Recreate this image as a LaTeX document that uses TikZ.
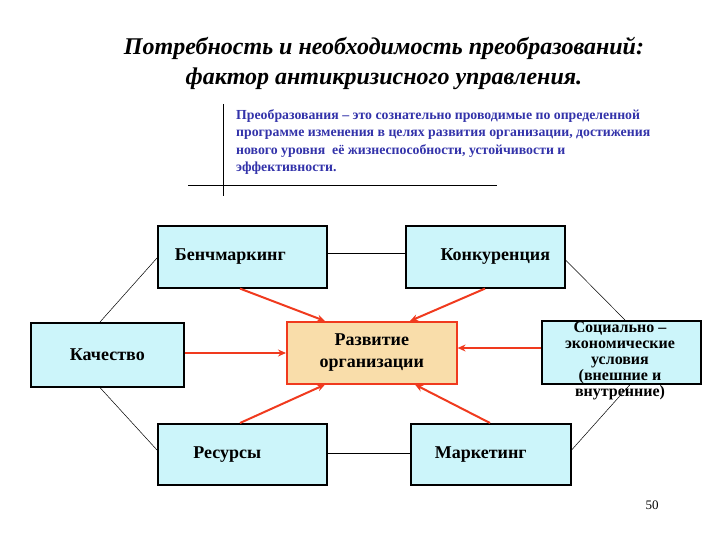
\documentclass[tikz,border=0pt]{standalone}
\usepackage{fontspec}
\setmainfont{Liberation Serif}
\usetikzlibrary{arrows.meta}
\definecolor{boxcyan}{HTML}{CCF5FA}
\definecolor{boxorange}{HTML}{F9DDAA}
\definecolor{defblue}{HTML}{3333AA}
\definecolor{arrred}{HTML}{F03A1E}
\tikzset{
 bx/.style={draw=black,line width=1.6pt,fill=boxcyan,font=\bfseries\fontsize{18}{22}\selectfont,align=center,inner sep=0pt},
 thin/.style={draw=black,line width=0.5pt},
 redarr/.style={draw=arrred,line width=2pt,-{Stealth[length=8pt,width=7pt]}}
}
\begin{document}
\begin{tikzpicture}[x=1pt,y=-1pt]
\useasboundingbox (0,0) rectangle (720,540);
\node[font=\bfseries\itshape\fontsize{24}{30}\selectfont,align=center] (title) at (384,63) {Потребность и необходимость преобразований:\\фактор антикризисного управления.};
\node[font=\bfseries\fontsize{13.8}{17.5}\selectfont,text=defblue,align=left,anchor=north west,inner sep=0pt] (def) at (236,109) {Преобразования -- это сознательно проводимые по определенной\\программе изменения в целях развития организации, достижения\\нового уровня \ её жизнеспособности, устойчивости и\\эффективности.};
\coordinate (v1) at (223,104); \coordinate (v2) at (223,196);
\coordinate (h1) at (188,185); \coordinate (h2) at (497,185);
\draw[thin] (v1)--(v2); \draw[thin] (h1)--(h2);
\node[bx,minimum width=169,minimum height=62,anchor=north west] (ben) at (157,225) {Бенчмаркинг\hspace{24pt}};
\node[bx,minimum width=159,minimum height=62,anchor=north west] (kon) at (405,225) {\hspace{20pt}Конкуренция};
\node[bx,minimum width=153,minimum height=64,anchor=north west] (kach) at (30,322) {Качество};
\node[bx,draw=arrred,fill=boxorange,minimum width=170,minimum height=62,anchor=north west] (raz) at (286,321) {Развитие\\организации};
\node[bx,minimum width=159,minimum height=63,anchor=north west] (soc) at (541,320) {};
\node[font=\bfseries\fontsize{16}{16}\selectfont,align=center,anchor=north,inner sep=1pt] (soct) at (620,321) {Социально --\\экономические\\условия\\(внешние и\\внутренние)};
\node[bx,minimum width=169,minimum height=61,anchor=north west] (res) at (157,423) {Ресурсы\hspace{30pt}};
\node[bx,minimum width=160,minimum height=61,anchor=north west] (mar) at (410,423) {Маркетинг\hspace{20pt}};
\node[font=\fontsize{13}{15}\selectfont] (pg) at (652,505) {50};
\draw[thin] (ben.east|-0,253)--(kon.west|-0,253);
\draw[thin] (res.east|-0,453)--(mar.west|-0,453);
\draw[thin] (ben.west|-0,258)--(kach.north-|100,0);
\draw[thin] (kach.south-|100,0)--(res.west|-0,450);
\draw[thin] (kon.east|-0,260)--(soc.north-|625,0);
\draw[thin] (soc.south-|630,0)--(mar.east|-0,450);
\draw[redarr] (ben.south-|240,0)--(raz.north-|325,0);
\draw[redarr] (kon.south-|485,0)--(raz.north-|410,0);
\draw[redarr] (kach.east|-0,353)--(raz.west|-0,353);
\draw[redarr] (soc.west|-0,348)--(raz.east|-0,348);
\draw[redarr] (res.north-|240,0)--(raz.south-|325,0);
\draw[redarr] (mar.north-|490,0)--(raz.south-|415,0);
\end{tikzpicture}
\end{document}
